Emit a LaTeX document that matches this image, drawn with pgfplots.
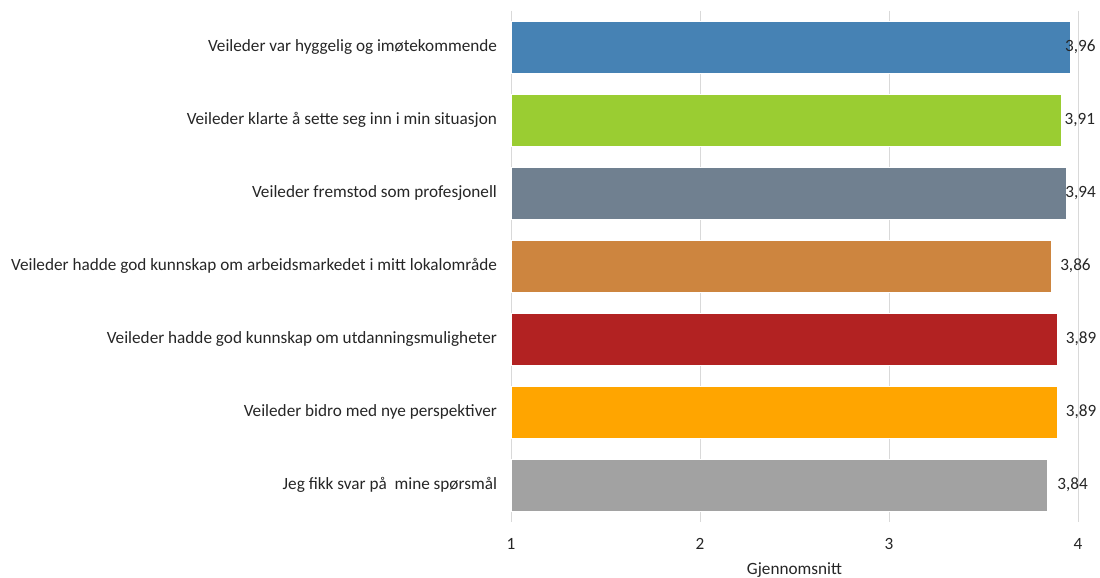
\documentclass[border=0pt]{standalone}
\usepackage{pgfplots}
\pgfplotsset{compat=1.18}
\usepackage{fontspec}
\setmainfont{Carlito}
\definecolor{c1}{HTML}{4682B4}
\definecolor{c2}{HTML}{9ACD32}
\definecolor{c3}{HTML}{708090}
\definecolor{c4}{HTML}{CD853F}
\definecolor{c5}{HTML}{B22222}
\definecolor{c6}{HTML}{FFA500}
\definecolor{c7}{HTML}{A2A2A2}
\definecolor{gridc}{HTML}{D9D9D9}
\begin{document}
\begin{tikzpicture}
\path[use as bounding box] (0,0) rectangle (825pt,433.5pt);
\begin{axis}[
  at={(383.25pt,42.375pt)}, anchor=south west,
  scale only axis, width=425.25pt, height=383.25pt,
  xmin=1, xmax=4, ymin=-0.5, ymax=6.5,
  y dir=reverse,
  xtick={1,2,3,4}, ytick={0,...,6},
  yticklabels={Veileder var hyggelig og imøtekommende,
    Veileder klarte å sette seg inn i min situasjon,
    Veileder fremstod som profesjonell,
    Veileder hadde god kunnskap om arbeidsmarkedet i mitt lokalområde,
    Veileder hadde god kunnskap om utdanningsmuligheter,
    Veileder bidro med nye perspektiver,
    Jeg fikk svar på\ \ mine spørsmål},
  xmajorgrids, grid style={gridc, line width=0.6pt},
  axis line style={draw=none},
  major tick length=0pt,
  tick style={draw=none},
  /pgf/number format/assume math mode=true,
  tick label style={font=\fontsize{12.9}{14}\selectfont, text=black!85},
  yticklabel style={xshift=-7pt},
  xticklabel style={yshift=-9pt},
  xlabel={Gjennomsnitt},
  xlabel style={font=\fontsize{12.9}{14}\selectfont, text=black!85, yshift=-3pt},
  xbar, bar shift=0pt, bar width=0.71,
  nodes near coords,
  nodes near coords style={font=\fontsize{12.9}{14}\selectfont, text=black!85, anchor=west,
    /pgf/number format/use comma, /pgf/number format/fixed, /pgf/number format/fixed zerofill,
    /pgf/number format/precision=2, /pgf/number format/assume math mode=true},
]
\addplot[fill=c1, draw=white, line width=0.4pt, every node near coord/.append style={xshift=-7.5pt}] coordinates {(3.96,0)};
\addplot[fill=c2, draw=white, line width=0.4pt, every node near coord/.append style={xshift=-0.75pt}] coordinates {(3.91,1)};
\addplot[fill=c3, draw=white, line width=0.4pt, every node near coord/.append style={xshift=-4.5pt}] coordinates {(3.94,2)};
\addplot[fill=c4, draw=white, line width=0.4pt, every node near coord/.append style={xshift=3pt}] coordinates {(3.86,3)};
\addplot[fill=c5, draw=white, line width=0.4pt, every node near coord/.append style={xshift=3pt}] coordinates {(3.89,4)};
\addplot[fill=c6, draw=white, line width=0.4pt, every node near coord/.append style={xshift=3pt}] coordinates {(3.89,5)};
\addplot[fill=c7, draw=white, line width=0.4pt, every node near coord/.append style={xshift=3.75pt}] coordinates {(3.84,6)};
\end{axis}
\end{tikzpicture}
\end{document}
